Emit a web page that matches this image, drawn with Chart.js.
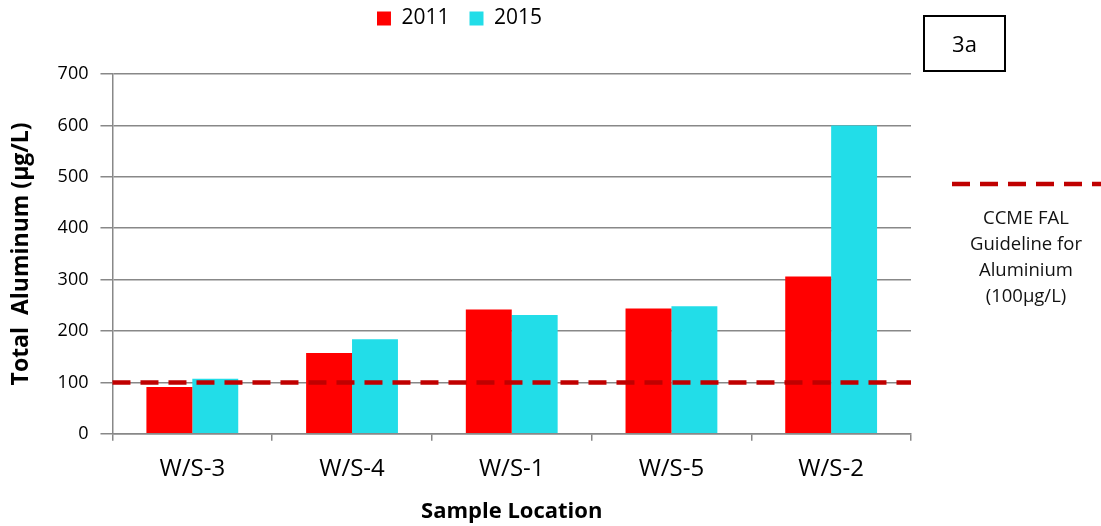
<!DOCTYPE html>
<html>
<head>
<meta charset="utf-8">
<script src="https://cdn.jsdelivr.net/npm/chart.js@4"></script>
<style>
  body { margin:0; background:#fff; }
  #wrap { position:relative; width:1101px; height:526px; }
  #box3a { position:absolute; left:923px; top:15px; width:79px; height:53px; border:2px solid #000;
           font: 22px "Open Sans", sans-serif; text-align:center; line-height:53px; color:#000; }
  #note { position:absolute; left:951px; top:204px; width:150px; text-align:center;
          font: 18.5px "Open Sans", sans-serif; line-height:26px; color:#111; }
</style>
</head>
<body>
<div id="wrap">
  <canvas id="c" width="1101" height="526"></canvas>
  <div id="box3a">3a</div>
  <div id="note">CCME FAL<br>Guideline for<br>Aluminium<br>(100µg/L)</div>
</div>
<script>
// data
const locations = ["W/S-3","W/S-4","W/S-1","W/S-5","W/S-2"]
const al2011 = [91, 157, 242, 244, 306]
const al2015 = [107, 184, 231, 248, 600]
const guideline = 100

// dashed guideline across chart area + sample in the note
const guidePlugin = {
    id: 'guide',
    afterDatasetsDraw(chart){
        let ctx = chart.ctx
        let a = chart.chartArea
        let y = chart.scales.y.getPixelForValue(guideline)
        ctx.save()
        ctx.strokeStyle = '#c00000'
        ctx.lineWidth = 4.5
        ctx.setLineDash([18, 10])
        ctx.beginPath()
        ctx.moveTo(a.left, y)
        ctx.lineTo(a.right, y)
        ctx.stroke()
        ctx.beginPath()
        ctx.moveTo(952, 184)
        ctx.lineTo(1101, 184)
        ctx.stroke()
        ctx.restore()
    }
}

// extra space under the legend
const legendGap = {
    id: 'legendGap',
    beforeInit(chart){
        const fit = chart.legend.fit
        chart.legend.fit = function(){
            fit.bind(chart.legend)()
            this.height += 35
        }
    }
}

const font = "'Open Sans', sans-serif"

new Chart(document.getElementById("c"), {
    type: 'bar',
    data: {
        labels: locations,
        datasets: [
            { label: "2011", data: al2011, backgroundColor: '#ff0000' },
            { label: "2015", data: al2015, backgroundColor: '#22dde8' }
        ]
    },
    options: {
        responsive: false,
        animation: false,
        datasets: { bar: { categoryPercentage: 0.575, barPercentage: 1.0 } },
        layout: { padding: { left: 8, right: 190, top: -12, bottom: 1 } },
        plugins: {
            legend: {
                position: 'top',
                labels: { boxWidth: 14, boxHeight: 14, padding: 20, color: '#000',
                          font: { family: font, size: 21 } }
            },
            tooltip: { enabled: false }
        },
        scales: {
            x: {
                grid: { offset: true, drawOnChartArea: false, color: '#888', lineWidth: 1.5, tickLength: 7 },
                border: { color: '#888', width: 1.5 },
                ticks: { color: '#000', font: { family: font, size: 24 }, padding: 14 },
                title: { display: true, text: "Sample Location", color: '#000',
                         font: { family: font, size: 22, weight: 'bold' }, padding: { top: 1, bottom: 0 } }
            },
            y: {
                min: 0, max: 700,
                ticks: { stepSize: 100, color: '#000', font: { family: font, size: 18 }, padding: 12 },
                grid: { color: '#888', lineWidth: 1.5, tickLength: 12 },
                border: { color: '#888', width: 1.5 },
                title: { display: true, text: "Total  Aluminum (µg/L)", color: '#000',
                         font: { family: font, size: 23, weight: 'bold' }, padding: { top: 0, bottom: 10 } }
            }
        }
    },
    plugins: [guidePlugin, legendGap]
})
</script>
</body>
</html>
